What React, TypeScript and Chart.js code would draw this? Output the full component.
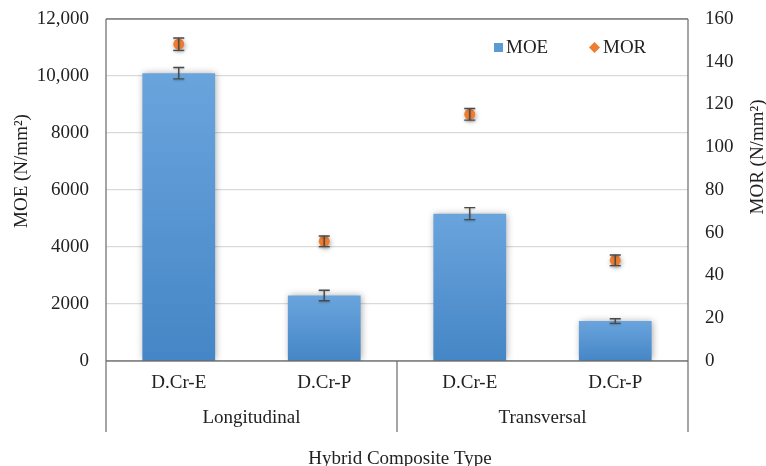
import React, { useEffect, useRef } from 'react';
import { Chart, registerables } from 'chart.js';

Chart.register(...registerables);

const categories = ['D.Cr-E', 'D.Cr-P', 'D.Cr-E', 'D.Cr-P'];
const groups = ['Longitudinal', 'Transversal'];
const moeValues = [10100, 2300, 5170, 1400];
const moeErrors = [200, 185, 210, 80];
const morValues = [148.2, 56, 115.4, 47.1];
const morErrors = [2.9, 2.5, 2.7, 2.5];
const moeTickLabels: Record<number, string> = {
  0: '0', 2000: '2000', 4000: '4000', 6000: '6000', 8000: '8000', 10000: '10,000', 12000: '12,000',
};
const morTickValues = [0, 20, 40, 60, 80, 100, 120, 140, 160];
const seriesNames = ['MOE', 'MOR'];
const axisTitles = { left: 'MOE (N/mm²)', right: 'MOR (N/mm²)', bottom: 'Hybrid Composite Type' };

const FONT = "'Liberation Serif', 'Times New Roman', serif";
const FS = 19;
const TEXT = '#222222';
const BAR_COLOR = '#5B9BD5';
const MOR_COLOR = '#ED7D31';
const LINE = '#404040';

const overlay = {
  id: 'overlay',
  beforeDatasetDraw(chart: any, args: any) {
    const ctx = chart.ctx;
    ctx.save();
    ctx.shadowColor = 'rgba(0,0,0,0.35)';
    ctx.shadowBlur = args.index === 0 ? 7 : 5;
    ctx.shadowOffsetX = 1;
    ctx.shadowOffsetY = args.index === 0 ? 0 : 2;
  },
  afterDatasetDraw(chart: any, args: any) {
    const ctx = chart.ctx;
    ctx.restore();
    const idx = args.index;
    const meta = chart.getDatasetMeta(idx);
    const scale = idx === 0 ? chart.scales.y : chart.scales.y1;
    const vals = idx === 0 ? moeValues : morValues;
    const errs = idx === 0 ? moeErrors : morErrors;
    ctx.save();
    ctx.strokeStyle = '#4a4a4a';
    ctx.lineWidth = 1.4;
    ctx.shadowColor = 'rgba(0,0,0,0.25)';
    ctx.shadowBlur = 2;
    ctx.shadowOffsetY = 1;
    meta.data.forEach((el: any, i: number) => {
      const x = el.x;
      const y1 = scale.getPixelForValue(vals[i] + errs[i]);
      const y2 = scale.getPixelForValue(vals[i] - errs[i]);
      const hw = 5.5;
      ctx.beginPath();
      ctx.moveTo(x, y1); ctx.lineTo(x, y2);
      ctx.moveTo(x - hw, y1); ctx.lineTo(x + hw, y1);
      ctx.moveTo(x - hw, y2); ctx.lineTo(x + hw, y2);
      ctx.stroke();
    });
    ctx.restore();
  },
  afterDraw(chart: any) {
    const ctx = chart.ctx;
    const { left, right, top, bottom } = chart.chartArea;
    const xs = chart.scales.x;
    const lowerBottom = bottom + 71;
    ctx.save();
    // frame
    ctx.strokeStyle = LINE;
    ctx.lineWidth = 1.2;
    ctx.beginPath();
    ctx.moveTo(left, top); ctx.lineTo(right, top);
    ctx.moveTo(left, bottom); ctx.lineTo(right, bottom);
    ctx.stroke();
    ctx.strokeStyle = '#6a6a6a';
    const midX = (xs.getPixelForValue(1) + xs.getPixelForValue(2)) / 2;
    ctx.beginPath();
    ctx.moveTo(left, top); ctx.lineTo(left, lowerBottom);
    ctx.moveTo(right, top); ctx.lineTo(right, lowerBottom);
    ctx.moveTo(midX, bottom); ctx.lineTo(midX, lowerBottom);
    ctx.stroke();

    ctx.fillStyle = TEXT;
    ctx.font = `${FS}px ${FONT}`;
    ctx.textAlign = 'center';
    ctx.textBaseline = 'middle';
    // group labels
    const g0 = (left + midX) / 2;
    const g1 = (midX + right) / 2;
    ctx.fillText(groups[0], g0, bottom + 57);
    ctx.fillText(groups[1], g1, bottom + 57);
    // bottom title
    ctx.fillText(axisTitles.bottom, (left + right) / 2 + 3, bottom + 98);
    // left title
    ctx.save();
    ctx.translate(22, 171);
    ctx.rotate(-Math.PI / 2);
    ctx.fillText(axisTitles.left, 0, 0);
    ctx.restore();
    // right title
    ctx.save();
    ctx.translate(758, 157);
    ctx.rotate(-Math.PI / 2);
    ctx.fillText(axisTitles.right, 0, 0);
    ctx.restore();

    // legend
    const ly = top + 28.5;
    ctx.textAlign = 'left';
    ctx.fillStyle = BAR_COLOR;
    ctx.fillRect(494, ly - 4.5, 9, 9);
    ctx.fillStyle = TEXT;
    ctx.fillText(seriesNames[0], 506, ly + 1);
    ctx.fillStyle = MOR_COLOR;
    ctx.beginPath();
    ctx.moveTo(594.5, ly - 5.5);
    ctx.lineTo(600, ly);
    ctx.lineTo(594.5, ly + 5.5);
    ctx.lineTo(589, ly);
    ctx.closePath();
    ctx.fill();
    ctx.fillStyle = TEXT;
    ctx.fillText(seriesNames[1], 603, ly + 1);
    ctx.restore();
  },
};

export default function App() {
  const ref = useRef<HTMLCanvasElement>(null);
  useEffect(() => {
    if (!ref.current) return;
    const chart = new Chart(ref.current, {
      type: 'bar',
      data: {
        labels: categories,
        datasets: [
          {
            type: 'bar',
            label: seriesNames[0],
            data: moeValues,
            yAxisID: 'y',
            barPercentage: 0.5,
            categoryPercentage: 1,
            order: 2,
            backgroundColor: (c: any) => {
              const ch = c.chart;
              if (!ch.chartArea || c.type !== 'data') return BAR_COLOR;
              const t = ch.scales.y.getPixelForValue(c.raw);
              const b = ch.scales.y.getPixelForValue(0);
              const g = ch.ctx.createLinearGradient(0, t, 0, b);
              g.addColorStop(0, '#6AA4DD');
              g.addColorStop(1, '#4586C6');
              return g;
            },
          } as any,
          {
            type: 'line',
            label: seriesNames[1],
            data: morValues,
            yAxisID: 'y1',
            showLine: false,
            order: 1,
            pointStyle: 'circle',
            pointRadius: 5.5,
            pointBackgroundColor: MOR_COLOR,
            pointBorderColor: MOR_COLOR,
            pointBorderWidth: 0,
          } as any,
        ],
      },
      options: {
        responsive: false,
        animation: false,
        layout: { padding: { top: 19, left: 0, right: 0, bottom: 0 } },
        plugins: { legend: { display: false }, tooltip: { enabled: false } },
        scales: {
          x: {
            grid: { display: false, drawTicks: false },
            border: { display: false },
            ticks: { font: { family: FONT, size: FS }, color: TEXT, padding: 11, maxRotation: 0 },
            afterFit: (s: any) => { s.height = 105; s.paddingLeft = 0; s.paddingRight = 0; },
          },
          y: {
            position: 'left',
            min: 0,
            max: 12000,
            ticks: {
              stepSize: 2000,
              font: { family: FONT, size: FS },
              color: TEXT,
              padding: 17,
              callback: (v: any) => moeTickLabels[v as number] ?? String(v),
            },
            grid: { color: '#D9D9D9', lineWidth: 1.2, drawTicks: false },
            border: { display: false },
            afterFit: (s: any) => { s.width = 106; s.paddingTop = 0; s.paddingBottom = 0; },
          },
          y1: {
            position: 'right',
            min: 0,
            max: 160,
            afterBuildTicks: (s: any) => { s.ticks = morTickValues.map((v) => ({ value: v })); },
            ticks: { font: { family: FONT, size: FS }, color: TEXT, padding: 17 },
            grid: { display: false, drawTicks: false },
            border: { display: false },
            afterFit: (s: any) => { s.width = 78; s.paddingTop = 0; s.paddingBottom = 0; },
          },
        },
      },
      plugins: [overlay],
    } as any);
    return () => chart.destroy();
  }, []);
  return (
    <div style={{ position: 'absolute', left: 0, top: 0, width: 766, height: 466, background: '#fff' }}>
      <canvas ref={ref} width={766} height={466} />
    </div>
  );
}
